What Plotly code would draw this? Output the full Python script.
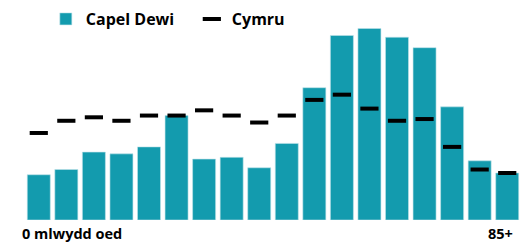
import plotly.graph_objects as go

age_groups = ["0-4", "5-9", "10-14", "15-19", "20-24", "25-29", "30-34", "35-39", "40-44",
              "45-49", "50-54", "55-59", "60-64", "65-69", "70-74", "75-79", "80-84", "85+"]
capel_dewi = [2.6, 2.9, 3.9, 3.8, 4.2, 6.0, 3.5, 3.6, 3.0, 4.4, 7.6, 10.6, 11.0, 10.5, 9.9, 6.5, 3.4, 2.7]
cymru = [5.0, 5.7, 5.9, 5.7, 6.0, 6.0, 6.3, 6.0, 5.6, 6.0, 6.9, 7.2, 6.4, 5.7, 5.8, 4.2, 2.9, 2.7]
end_labels = ["0 mlwydd oed", "85+"]
series_names = ["Capel Dewi", "Cymru"]

TEAL = "#139bae"
FONT = "Open Sans"

fig = go.Figure()
fig.add_trace(go.Bar(
    x=age_groups, y=capel_dewi, name="<b>%s</b>" % series_names[0],
    marker=dict(color=TEAL, line=dict(color="#bfe3ea", width=0.6)),
))
fig.add_trace(go.Scatter(
    x=age_groups, y=cymru, name="<b>%s</b>" % series_names[1], mode="markers",
    marker=dict(symbol="line-ew", size=13, color="black",
                line=dict(color="black", width=4)),
))

fig.update_layout(
    width=523, height=244,
    margin=dict(l=25, r=2, t=20, b=24, autoexpand=False),
    paper_bgcolor="white", plot_bgcolor="white",
    bargap=0.165,
    showlegend=True,
    legend=dict(orientation="h", x=0.042, y=1.005, xanchor="left", yanchor="middle",
                font=dict(family=FONT, size=16, color="black"),
                itemwidth=30, entrywidth=101, bgcolor="rgba(0,0,0,0)"),
    font=dict(family=FONT, color="black"),
    xaxis=dict(range=[-0.5, len(age_groups) - 0.5], showticklabels=False, showgrid=False,
               zeroline=False, showline=False, ticks=""),
    yaxis=dict(range=[0, 11.49], showticklabels=False, showgrid=False, zeroline=False,
               showline=False, ticks=""),
    annotations=[
        dict(text="<b>%s</b>" % end_labels[0], xref="paper", yref="paper", x=0, y=0,
             xanchor="left", yanchor="top", xshift=-5, yshift=-2, showarrow=False,
             font=dict(family=FONT, size=14.5, color="black")),
        dict(text="<b>%s</b>" % end_labels[1], xref="paper", yref="paper", x=1, y=0,
             xanchor="right", yanchor="top", xshift=-6, yshift=-2, showarrow=False,
             font=dict(family=FONT, size=14.5, color="black")),
    ],
)

fig.write_html("out.html", config={"displayModeBar": False},
               post_script="document.body.style.margin='0';document.body.style.overflow='hidden';")
